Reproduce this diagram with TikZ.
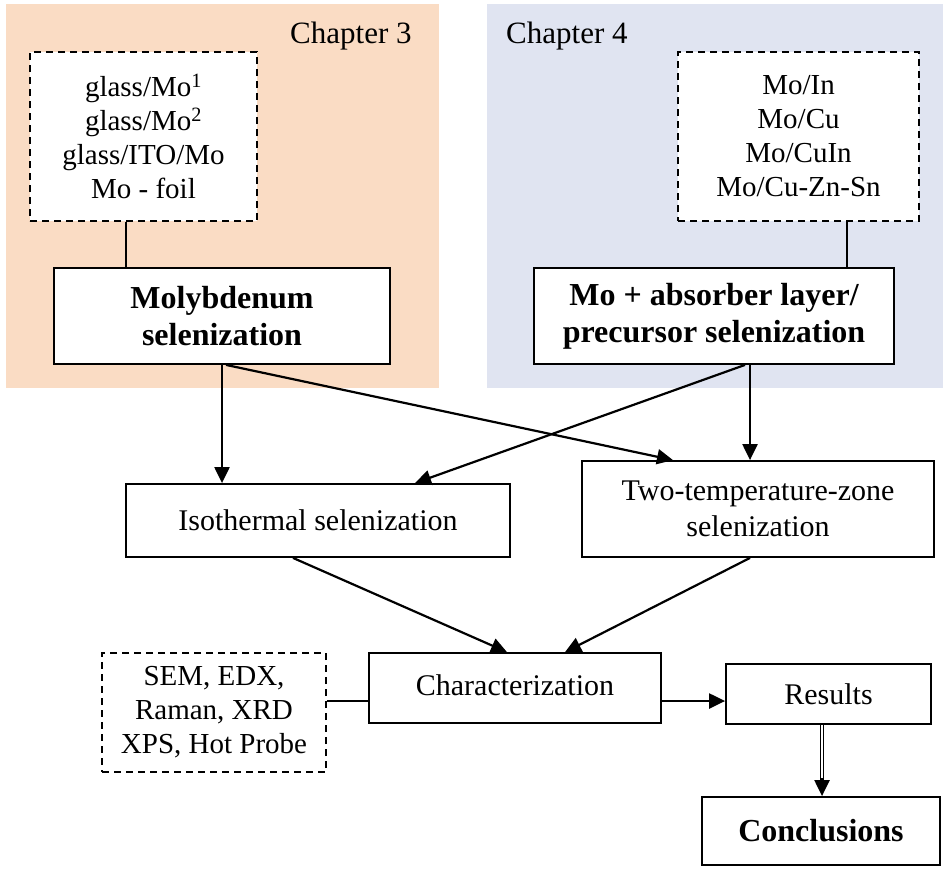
\documentclass[tikz,border=0pt]{standalone}
\usepackage{fontspec}
\setmainfont{Liberation Serif}
\usetikzlibrary{arrows.meta,calc}
\definecolor{chapA}{RGB}{250,220,196}
\definecolor{chapB}{RGB}{224,228,241}
\begin{document}
\begin{tikzpicture}[x=1pt,y=-1pt,
 box/.style={draw, line width=1.8pt, fill=white, inner sep=0pt, align=center, font=\fontsize{30}{36}\selectfont},
 boldbox/.style={box, font=\fontsize{32}{37}\selectfont\bfseries},
 listbox/.style={box, dash pattern=on 7pt off 5pt, font=\fontsize{29}{34}\selectfont},
 conn/.style={line width=2.2pt},
 arr/.style={conn, -{Triangle[length=16pt,width=15pt]}},
 chap/.style={anchor=base west, inner sep=0pt, font=\fontsize{31}{36}\selectfont}]
\useasboundingbox (0,0) rectangle (952,868);
\fill[chapA] (6,4) rectangle (439,388);
\fill[chapB] (487,4) rectangle (943,388);
\node[chap] (ch3) at (290,43) {Chapter 3};
\node[chap] (ch4) at (506,43) {Chapter 4};

\node[listbox, minimum width=227pt, minimum height=169pt] (list1) at (143.5,136.5)
  {glass/Mo\textsuperscript{1}\\glass/Mo\textsuperscript{2}\\glass/ITO/Mo\\Mo - foil};
\node[boldbox, minimum width=336pt, minimum height=96pt] (moly) at (222,316)
  {Molybdenum\\selenization};
\node[listbox, minimum width=241pt, minimum height=169pt] (list2) at (798.5,136.5)
  {Mo/In\\Mo/Cu\\Mo/CuIn\\Mo/Cu-Zn-Sn};
\node[boldbox, minimum width=360pt, minimum height=96pt] (mo4) at (714,316)
  {Mo + absorber layer/\\precursor selenization};
\node[box, minimum width=384pt, minimum height=73pt] (iso) at (318,520.5)
  {Isothermal selenization};
\node[box, minimum width=352pt, minimum height=96pt] (two) at (758,509)
  {Two-temperature-zone\\selenization};
\node[box, minimum width=292pt, minimum height=70pt] (charz) at (515,688)
  {\raisebox{5pt}{Characterization}};
\node[listbox, minimum width=224pt, minimum height=119pt] (sem) at (214,712.5)
  {SEM, EDX,\\Raman, XRD\\XPS, Hot Probe};
\node[box, minimum width=205pt, minimum height=60pt] (res) at (828.5,694)
  {Results};
\node[boldbox, minimum width=238pt, minimum height=68pt] (conc) at (821,831)
  {Conclusions};

\draw[conn] ([xshift=-17.5pt]list1.south) -- ([xshift=-17.5pt]list1.south |- moly.north);
\draw[conn] ([xshift=48.5pt]list2.south) -- ([xshift=48.5pt]list2.south |- mo4.north);

\draw[arr] (moly.south) -- (moly.south |- iso.north);
\draw[arr] ([xshift=4pt]moly.south) -- ([xshift=-85pt]two.north);
\draw[arr] ([xshift=36pt]mo4.south) -- ([xshift=36pt]mo4.south |- two.north);
\draw[arr] ([xshift=31pt]mo4.south) -- ([xshift=97pt]iso.north);
\draw[arr] ([xshift=-25pt]iso.south) -- ([xshift=-8pt]charz.north);
\draw[arr] ([xshift=-8pt]two.south) -- ([xshift=50pt]charz.north);
\draw[conn] ([yshift=11.5pt]sem.east) -- ([yshift=11.5pt]sem.east -| charz.west);
\draw[arr] ([yshift=-13pt]charz.east) -- ([yshift=-13pt]charz.east -| res.west);
\coordinate (dtop) at ([xshift=-6.5pt]res.south);
\draw[line width=1.1pt, double distance=2.5pt] (dtop) -- ([yshift=14pt]dtop |- conc.north);
\draw[arr] ([yshift=18pt]dtop |- conc.north) -- (dtop |- conc.north);
\end{tikzpicture}
\end{document}
